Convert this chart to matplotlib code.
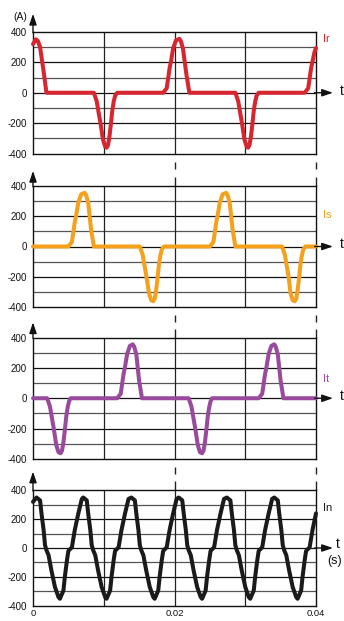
import matplotlib
matplotlib.use('Agg')
import matplotlib.pyplot as plt
from matplotlib.transforms import blended_transform_factory

plt.rcParams['font.family'] = ['Liberation Sans', 'DejaVu Sans']
plt.rcParams['axes.unicode_minus'] = False

# ---------------- data ----------------
IR_T = [0.0000, 0.0004, 0.0007, 0.0010, 0.0015, 0.0019,
        0.0086, 0.0090, 0.0092, 0.0095, 0.0099, 0.0102, 0.0104, 0.0106, 0.0108, 0.0110, 0.0112, 0.0114, 0.0116, 0.0119,
        0.0184, 0.0189, 0.0193, 0.0195, 0.0198, 0.0202, 0.0207, 0.0209, 0.0212, 0.0217, 0.0221,
        0.0286, 0.0290, 0.0292, 0.0295, 0.0299, 0.0302, 0.0304, 0.0306, 0.0308, 0.0310, 0.0312, 0.0314, 0.0316, 0.0319,
        0.0384, 0.0389, 0.0393, 0.0395, 0.0398, 0.0400]
IR_V = [320, 352, 340, 300, 140, 0,
        0, -55, -110, -190, -310, -355, -362, -345, -290, -210, -120, -60, -20, 0,
        0, 30, 160, 205, 290, 345, 355, 340, 290, 115, 0,
        0, -55, -110, -190, -310, -355, -362, -345, -290, -210, -120, -60, -20, 0,
        0, 30, 160, 205, 270, 295]

IS_T = [0.0000, 0.0050, 0.0055, 0.0059, 0.0061, 0.0064, 0.0068, 0.0073, 0.0075, 0.0078, 0.0082, 0.0086,
        0.0151, 0.0155, 0.0157, 0.0160, 0.0164, 0.0167, 0.0170, 0.0172, 0.0174, 0.0176, 0.0178, 0.0180, 0.0182, 0.0185,
        0.0250, 0.0255, 0.0259, 0.0261, 0.0264, 0.0268, 0.0273, 0.0275, 0.0278, 0.0282, 0.0286,
        0.0352, 0.0356, 0.0358, 0.0361, 0.0364, 0.0367, 0.0370, 0.0372, 0.0374, 0.0376, 0.0378, 0.0380, 0.0382, 0.0385,
        0.0400]
IS_V = [0, 0, 30, 160, 205, 290, 345, 355, 340, 290, 115, 0,
        0, -55, -110, -190, -310, -355, -362, -345, -290, -210, -120, -60, -20, 0,
        0, 30, 160, 205, 290, 345, 355, 340, 290, 115, 0,
        0, -55, -110, -190, -310, -355, -362, -345, -290, -210, -120, -60, -20, 0,
        0]

IT_T = [0.0000, 0.0020, 0.0024, 0.0026, 0.0029, 0.0033, 0.0036, 0.0039, 0.0041, 0.0043, 0.0045, 0.0047, 0.0049, 0.0051, 0.0053,
        0.0119, 0.0124, 0.0128, 0.0130, 0.0133, 0.0137, 0.0141, 0.0143, 0.0146, 0.0150, 0.0154,
        0.0220, 0.0224, 0.0226, 0.0229, 0.0233, 0.0236, 0.0239, 0.0241, 0.0243, 0.0245, 0.0247, 0.0249, 0.0251, 0.0253,
        0.0319, 0.0324, 0.0328, 0.0330, 0.0333, 0.0337, 0.0341, 0.0343, 0.0346, 0.0350, 0.0354,
        0.0400]
IT_V = [0, 0, -55, -110, -190, -310, -355, -362, -345, -290, -210, -120, -60, -20, 0,
        0, 30, 160, 205, 290, 345, 355, 340, 290, 115, 0,
        0, -55, -110, -190, -310, -355, -362, -345, -290, -210, -120, -60, -20, 0,
        0, 30, 160, 205, 290, 345, 355, 340, 290, 115, 0,
        0]

IN_T = [0.0000,
        0.0005, 0.0010, 0.0012, 0.0015, 0.0017, 0.0019, 0.0022, 0.0026, 0.0031, 0.0036, 0.0038, 0.0043, 0.0045, 0.0048, 0.0050, 0.0055, 0.0059, 0.0064, 0.0069,
        0.0071, 0.0076, 0.0078, 0.0081, 0.0083, 0.0085, 0.0088, 0.0092, 0.0097, 0.0102, 0.0104, 0.0109, 0.0111, 0.0114, 0.0116, 0.0121, 0.0125, 0.0130, 0.0135,
        0.0139, 0.0144, 0.0146, 0.0149, 0.0151, 0.0153, 0.0156, 0.0160, 0.0165, 0.0170, 0.0172, 0.0177, 0.0179, 0.0182, 0.0184, 0.0189, 0.0193, 0.0198, 0.0203,
        0.0206, 0.0211, 0.0213, 0.0216, 0.0218, 0.0220, 0.0223, 0.0227, 0.0232, 0.0237, 0.0239, 0.0244, 0.0246, 0.0249, 0.0251, 0.0256, 0.0260, 0.0265, 0.0270,
        0.0274, 0.0279, 0.0281, 0.0284, 0.0286, 0.0288, 0.0291, 0.0295, 0.0300, 0.0305, 0.0307, 0.0312, 0.0314, 0.0317, 0.0319, 0.0324, 0.0328, 0.0333, 0.0338,
        0.0341, 0.0346, 0.0348, 0.0351, 0.0353, 0.0355, 0.0358, 0.0362, 0.0367, 0.0372, 0.0374, 0.0379, 0.0381, 0.0384, 0.0386, 0.0391, 0.0395, 0.0400]
IN_V = [320,
        350, 330, 240, 125, 20, -15, -50, -155, -270, -340, -352, -295, -200, -85, -20, 5, 123, 238, 340,
        350, 330, 240, 125, 20, -15, -50, -155, -270, -340, -352, -295, -200, -85, -20, 5, 123, 238, 340,
        350, 330, 240, 125, 20, -15, -50, -155, -270, -340, -352, -295, -200, -85, -20, 5, 123, 238, 340,
        350, 330, 240, 125, 20, -15, -50, -155, -270, -340, -352, -295, -200, -85, -20, 5, 123, 238, 340,
        350, 330, 240, 125, 20, -15, -50, -155, -270, -340, -352, -295, -200, -85, -20, 5, 123, 238, 340,
        350, 330, 240, 125, 20, -15, -50, -155, -270, -340, -352, -295, -200, -85, -20, 5, 123, 240]

SERIES_NAMES = ['Ir', 'Is', 'It', 'In']
SERIES_T = [IR_T, IS_T, IT_T, IN_T]
SERIES_V = [IR_V, IS_V, IT_V, IN_V]
COLORS = ['#d7262f', '#f5a11c', '#9a4a9d', '#1a1a1a']
LABEL_COLORS = ['#d7262f', '#f5a11c', '#9a4a9d', '#1a1a1a']
LABEL_Y = [355, 205, 125, 280]

YTICKS = [-400, -200, 0, 200, 400]
YTICK_LABELS = ['-400', '-200', '0', '200', '400']
XTICKS = [0, 0.02, 0.04]
XTICK_LABELS = ['0', '0.02', '0.04']
GRID_Y = [-300, -200, -100, 0, 100, 200, 300]
GRID_X = [0.01, 0.02, 0.03]

# ---------------- layout ----------------
W, H = 344, 621
fig = plt.figure(figsize=(W / 100, H / 100), dpi=100)
fig.patch.set_facecolor('white')

panels_px = [(32, 153.5), (186, 307), (337.5, 459), (490.3, 605.7)]
left_px, right_px = 33, 316
arrow_tip = [520, 500, 500, 530]

axes = []
for i, (top, bot) in enumerate(panels_px):
    ax = fig.add_axes([left_px / W, 1 - bot / H, (right_px - left_px) / W, (bot - top) / H])
    axes.append(ax)
    ax.set_xlim(0, 0.04)
    ax.set_ylim(-400, 400)
    for s in ax.spines.values():
        s.set_linewidth(1.0)
        s.set_color('#111111')
    for gy in GRID_Y:
        col = '#111111' if gy % 200 == 0 else '#555555'
        ax.axhline(gy, color=col, lw=0.9, zorder=1)
    for gx in GRID_X:
        ax.axvline(gx, color='#222222', lw=0.9, zorder=1)

    ax.plot(SERIES_T[i], SERIES_V[i], color=COLORS[i], lw=2.9,
            solid_joinstyle='round', solid_capstyle='round', zorder=3, clip_on=False)

    ax.set_yticks(YTICKS)
    ax.set_yticklabels(YTICK_LABELS)
    ax.tick_params(axis='y', length=0, pad=4.5, labelsize=7, colors='#111111')
    if i == 3:
        ax.set_xticks(XTICKS)
        ax.set_xticklabels(XTICK_LABELS)
        ax.tick_params(axis='x', length=0, pad=2.5, labelsize=6.8, colors='#111111')
    else:
        ax.set_xticks([])

    # y axis arrow
    ax.annotate('', xy=(0, arrow_tip[i]), xytext=(0, 395), xycoords='data',
                arrowprops=dict(arrowstyle='-|>,head_length=0.65,head_width=0.22',
                                lw=1.0, color='#111111', shrinkA=0, shrinkB=0),
                annotation_clip=False)
    # x axis arrow
    ax.annotate('', xy=(0.0424, 0), xytext=(0.0398, 0), xycoords='data',
                arrowprops=dict(arrowstyle='-|>,head_length=0.65,head_width=0.22',
                                lw=1.0, color='#111111', shrinkA=0, shrinkB=0),
                annotation_clip=False)
    if i < 3:
        ax.text(0.0436, -13, 't', ha='center', va='baseline', fontsize=10,
                color='#111111', clip_on=False)
    else:
        ax.text(0.0431, 0, 't', ha='center', va='baseline', fontsize=10,
                color='#111111', clip_on=False)
        ax.text(0.04256, -92, '(s)', ha='center', va='center', fontsize=9,
                color='#111111', clip_on=False)

    ax.text(0.0410, LABEL_Y[i], SERIES_NAMES[i], ha='left', va='center', fontsize=8,
            color=LABEL_COLORS[i], clip_on=False)

axes[0].text(-0.0018, 500, '(A)', ha='center', va='center', fontsize=7.5,
             color='#111111', clip_on=False)

# dashed vertical connectors between panels at 0.02 and 0.04
for i in range(3):
    bot = panels_px[i][1]
    top = panels_px[i + 1][0]
    trans = blended_transform_factory(axes[i].transData, fig.transFigure)
    for x in [0.02, 0.04]:
        for (p1, p2) in [(bot + 8, bot + 15), (top - 9, top)]:
            axes[i].plot([x, x], [1 - p1 / H, 1 - p2 / H], transform=trans,
                         color='#222222', lw=1.0, clip_on=False, solid_capstyle='butt')

fig.savefig('out.png', dpi=100, facecolor='white')
